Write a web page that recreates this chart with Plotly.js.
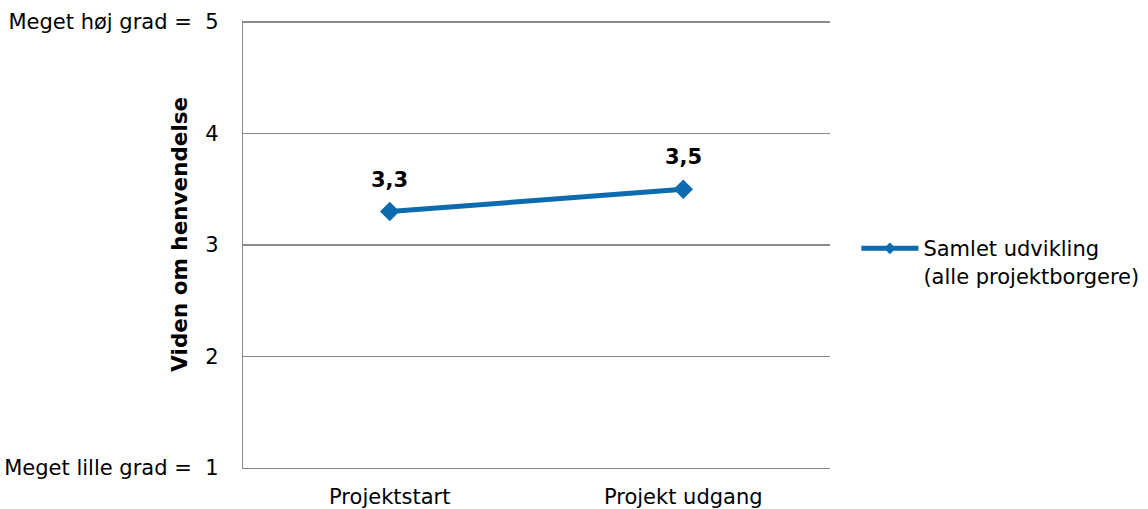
<!DOCTYPE html>
<html>
<head>
<meta charset="utf-8">
<script src="https://cdn.plot.ly/plotly-3.0.1.min.js"></script>
<style>html,body{margin:0;padding:0;background:#fff}#chart{width:1148px;height:509px}</style>
</head>
<body>
<div id="chart"></div>
<script>
const categories = ['Projektstart', 'Projekt udgang'];
const values = [3.3, 3.5];
const seriesName = 'Samlet udvikling<br>(alle projektborgere)';
const yTickValues = [1, 2, 3, 4, 5];
const yTickLabels = ['Meget lille grad = \u00a01', '2', '3', '4', 'Meget høj grad = \u00a05'];
const yTitle = 'Viden om henvendelse';

const font = 'Verdana, "DejaVu Sans", sans-serif';
const blue = '#0b6bae';
const gridColor = '#8a8a8a';

const trace = {
  x: categories,
  y: values,
  type: 'scatter',
  mode: 'lines+markers',
  name: seriesName,
  showlegend: false,
  line: {color: blue, width: 5},
  marker: {symbol: 'diamond', size: 15, color: blue},
  hoverinfo: 'none'
};

const legendTrace = {
  x: [null], y: [null],
  type: 'scatter',
  mode: 'lines+markers',
  name: seriesName,
  showlegend: true,
  line: {color: blue, width: 5},
  marker: {symbol: 'diamond', size: 9, color: blue},
  hoverinfo: 'none'
};

const annotations = categories.map((c, i) => ({
  x: c, y: values[i], xref: 'x', yref: 'y',
  text: '<b>' + values[i].toFixed(1).replace('.', ',') + '</b>',
  showarrow: false, yshift: 32,
  font: {family: font, size: 21, color: '#000'}
}));

annotations.push({
  xref: 'paper', yref: 'paper', x: -0.1073, y: 0.522,
  xanchor: 'center', yanchor: 'middle',
  text: '<b>' + yTitle + '</b>', textangle: -90, showarrow: false,
  font: {family: font, size: 21.5, color: '#000'}
});

const layout = {
  width: 1148, height: 509,
  margin: {l: 243, r: 318, t: 21, b: 41},
  paper_bgcolor: '#fff', plot_bgcolor: '#fff',
  separators: ',.',
  font: {family: font, size: 21, color: '#000'},
  showlegend: true,
  legend: {
    xref: 'container', yref: 'container',
    x: 0.746, y: 0.485, xanchor: 'left', yanchor: 'middle', valign: 'top',
    itemwidth: 57,
    font: {family: font, size: 21, color: '#000'},
    bgcolor: 'rgba(0,0,0,0)', tracegroupgap: 0
  },
  xaxis: {
    type: 'category', range: [-0.5, 1.5],
    showgrid: false, zeroline: false,
    showline: true, linecolor: gridColor, linewidth: 1.3,
    ticks: '', tickfont: {family: font, size: 21, color: '#000'},
    ticklabelstandoff: 9,
    automargin: false, fixedrange: true
  },
  yaxis: {
    range: [0.998, 5.01], tickmode: 'array', tickvals: yTickValues, ticktext: yTickLabels,
    showgrid: true, gridcolor: gridColor, gridwidth: 1.3,
    zeroline: false, showline: true, linecolor: gridColor, linewidth: 1.3,
    ticks: '', tickfont: {family: font, size: 21, color: '#000'},
    ticklabelstandoff: 19,
    automargin: false, fixedrange: true
  },
  annotations: annotations
};

Plotly.newPlot('chart', [trace, legendTrace], layout, {displayModeBar: false, staticPlot: true});
</script>
</body>
</html>
